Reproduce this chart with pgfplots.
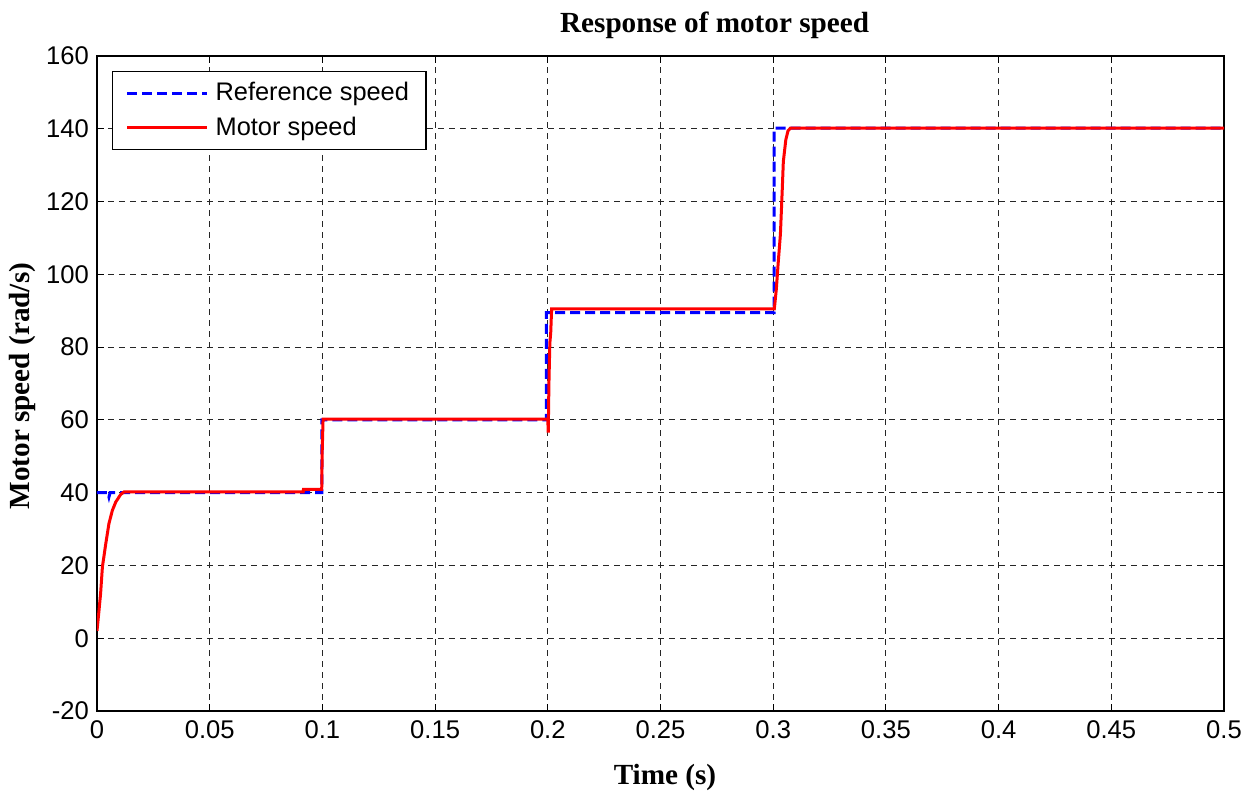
\documentclass[border=0pt]{standalone}
\usepackage{pgfplots}
\pgfplotsset{compat=1.18}
\usepackage{fontspec}
\setmainfont{Liberation Sans}
\newfontfamily\tnr{Liberation Serif}
\begin{document}
\begin{tikzpicture}
\begin{axis}[
  name=ax,
  scale only axis,
  width=563.5pt, height=327.5pt,
  xmin=0, xmax=0.5, ymin=-20, ymax=160,
  xtick={0,0.05,...,0.5},
  xticklabels={0,0.05,0.1,0.15,0.2,0.25,0.3,0.35,0.4,0.45,0.5},
  ytick={-20,0,...,160},
  tick align=inside,
  major tick length=3.5pt,
  tick style={black, line width=0.5pt},
  axis line style={black, line width=0.6pt},
  xmajorgrids, ymajorgrids,
  grid style={black!85, line width=0.5pt, dash pattern=on 3pt off 2.5pt},
  ticklabel style={font=\fontsize{12.8}{14}\selectfont},
  /pgf/number format/assume math mode=true,
  yticklabel style={xshift=-0.5pt},
  xticklabel style={yshift=-1.5pt},
  every axis title shift=0pt,
  title={\tnr\bfseries Response of motor speed},
  title style={font=\fontsize{14.6}{16}\selectfont, at={(axis description cs:0.548,1.047)}, anchor=center},
  xlabel={\tnr\bfseries Time (s)},
  xlabel style={font=\fontsize{14.6}{16}\selectfont, at={(axis description cs:0.504,-0.101)}, anchor=center},
  ylabel={\tnr\bfseries Motor speed (rad/s)},
  ylabel style={font=\fontsize{14.6}{16}\selectfont, at={(axis description cs:-0.0665,0.496)}, anchor=center},
  legend style={at={(axis description cs:0,1)}, anchor=north west, xshift=7.5pt, yshift=-7.5pt,
    draw=black, line width=0.6pt, font=\fontsize{12.7}{14}\selectfont,
    inner xsep=6.5pt, inner ysep=3.5pt, row sep=2.5pt, cells={anchor=west}},
  legend cell align=left,
  legend image code/.code={\draw[#1, line width=1.5pt] (0pt,0pt) -- (40pt,0pt); \path (41.5pt,0pt);},
]
\addplot[blue, line width=1.5pt, dash pattern=on 5pt off 2.5pt] coordinates {
  (0,40) (0.0048,40) (0.0053,38.8) (0.0058,40)
  (0.0998,40) (0.0998,60) (0.1994,60) (0.1994,89.5) (0.3004,89.5) (0.3004,140.2) (0.5,140.2)
};
\addlegendentry{Reference speed}
\addplot[red, line width=1.5pt] coordinates {
  (0,2) (0.0009,7.7) (0.0016,12.3) (0.0024,19.6) (0.0039,26) (0.0053,31.5)
  (0.0068,35.1) (0.0083,37.4) (0.0105,39.5) (0.012,40.2) (0.0915,40.2)
  (0.0916,40.9) (0.0997,40.9) (0.0999,51) (0.1003,60.2) (0.2,60.2)
  (0.2002,56.5) (0.2005,70) (0.2009,81) (0.2013,84) (0.2017,90.5)
  (0.3005,90.5) (0.3014,96) (0.3022,103) (0.3032,111) (0.3040,123)
  (0.3045,131) (0.3056,137) (0.3066,139.5) (0.3077,140.2) (0.5,140.2)
};
\addlegendentry{Motor speed}
\end{axis}
\pgfresetboundingbox
\path (ax.south west) ++(-48.5pt,-40pt) rectangle ++(622pt,395.5pt);
\end{tikzpicture}
\end{document}
